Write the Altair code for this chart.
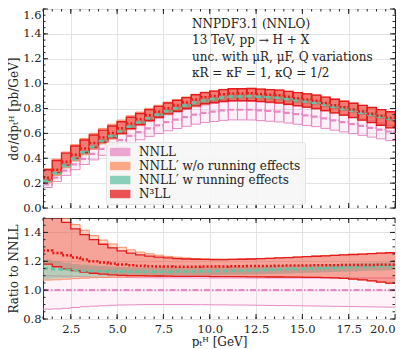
import altair as alt
import pandas as pd

# ---------------- data ----------------
bin_lo = [1.0, 1.5, 2.0, 2.5, 3.0, 3.5, 4.0, 4.5, 5.0, 5.5, 6.0, 6.5, 7.0, 7.5,
          8.0, 8.5, 9.0, 9.5, 10.0, 10.5, 11.0, 11.5, 12.0, 12.5, 13.0, 13.5,
          14.0, 14.5, 15.0, 15.5, 16.0, 16.5, 17.0, 17.5, 18.0, 18.5, 19.0, 19.5]
bin_w = 0.5

# NNLL central value, dsigma/dpt [pb/GeV]
nnll_central = [0.19, 0.245, 0.30, 0.35, 0.395, 0.435, 0.475, 0.51, 0.545, 0.58,
                0.61, 0.64, 0.665, 0.69, 0.71, 0.73, 0.75, 0.765, 0.775, 0.785,
                0.79, 0.79, 0.79, 0.785, 0.78, 0.775, 0.765, 0.755, 0.745, 0.735,
                0.72, 0.705, 0.69, 0.675, 0.66, 0.645, 0.63, 0.615]

# ratios to NNLL central
nnll_lo = [0.868, 0.870, 0.874, 0.880, 0.885, 0.889, 0.892, 0.895, 0.897, 0.898,
           0.899, 0.900, 0.900, 0.900, 0.900, 0.900, 0.899, 0.899, 0.898, 0.898,
           0.897, 0.897, 0.896, 0.895, 0.894, 0.893, 0.893, 0.892, 0.891, 0.890,
           0.889, 0.888, 0.887, 0.886, 0.885, 0.884, 0.883, 0.882]
nnll_c = [1.0] * 38
nnll_hi = [1.100, 1.099, 1.097, 1.095, 1.093, 1.091, 1.090, 1.089, 1.088, 1.087,
           1.086, 1.086, 1.085, 1.085, 1.085, 1.085, 1.084, 1.084, 1.084, 1.084,
           1.084, 1.084, 1.084, 1.084, 1.084, 1.084, 1.084, 1.084, 1.084, 1.084,
           1.084, 1.084, 1.084, 1.084, 1.084, 1.084, 1.084, 1.084]

wo_lo = [1.070, 1.072, 1.076, 1.080, 1.083, 1.086, 1.088, 1.090, 1.091, 1.092,
         1.093, 1.094, 1.094, 1.095, 1.095, 1.095, 1.095, 1.095, 1.094, 1.094,
         1.094, 1.093, 1.093, 1.092, 1.092, 1.091, 1.091, 1.090, 1.090, 1.089,
         1.088, 1.086, 1.083, 1.078, 1.072, 1.065, 1.057, 1.049]
wo_c = [1.270, 1.252, 1.237, 1.222, 1.208, 1.197, 1.188, 1.180, 1.174, 1.169,
        1.165, 1.162, 1.160, 1.159, 1.158, 1.158, 1.158, 1.159, 1.159, 1.160,
        1.161, 1.162, 1.163, 1.164, 1.164, 1.165, 1.166, 1.166, 1.167, 1.168,
        1.168, 1.169, 1.170, 1.170, 1.171, 1.171, 1.172, 1.172]
wo_hi = [1.660, 1.600, 1.500, 1.455, 1.415, 1.378, 1.347, 1.320, 1.297, 1.279,
         1.264, 1.252, 1.242, 1.234, 1.228, 1.223, 1.219, 1.217, 1.216, 1.215,
         1.215, 1.216, 1.217, 1.219, 1.221, 1.224, 1.227, 1.230, 1.233, 1.236,
         1.239, 1.242, 1.245, 1.248, 1.251, 1.254, 1.257, 1.260]

w_lo = [1.075, 1.080, 1.085, 1.090, 1.093, 1.095, 1.097, 1.098, 1.099, 1.100,
        1.100, 1.100, 1.100, 1.100, 1.101, 1.101, 1.102, 1.103, 1.104, 1.105,
        1.106, 1.107, 1.108, 1.110, 1.112, 1.114, 1.116, 1.118, 1.120, 1.122,
        1.124, 1.126, 1.128, 1.130, 1.132, 1.134, 1.136, 1.138]
w_c = [1.150, 1.145, 1.141, 1.138, 1.135, 1.133, 1.131, 1.130, 1.129, 1.128,
       1.128, 1.128, 1.128, 1.128, 1.129, 1.129, 1.130, 1.131, 1.132, 1.133,
       1.134, 1.135, 1.137, 1.139, 1.141, 1.143, 1.145, 1.147, 1.149, 1.151,
       1.153, 1.155, 1.157, 1.159, 1.161, 1.163, 1.165, 1.167]
w_hi = [1.210, 1.200, 1.190, 1.182, 1.176, 1.171, 1.167, 1.163, 1.161, 1.159,
        1.158, 1.157, 1.156, 1.156, 1.156, 1.156, 1.157, 1.158, 1.159, 1.160,
        1.161, 1.162, 1.164, 1.166, 1.168, 1.170, 1.172, 1.174, 1.176, 1.178,
        1.180, 1.182, 1.184, 1.186, 1.188, 1.190, 1.192, 1.194]

n3ll_lo = [1.180, 1.162, 1.148, 1.135, 1.125, 1.117, 1.111, 1.106, 1.103, 1.101,
           1.100, 1.099, 1.098, 1.097, 1.096, 1.096, 1.095, 1.095, 1.094, 1.094,
           1.093, 1.093, 1.092, 1.092, 1.091, 1.091, 1.090, 1.090, 1.089, 1.088,
           1.087, 1.085, 1.082, 1.077, 1.071, 1.064, 1.056, 1.048]
n3ll_c = [1.275, 1.257, 1.241, 1.226, 1.212, 1.201, 1.192, 1.184, 1.178, 1.173,
          1.169, 1.166, 1.164, 1.163, 1.162, 1.162, 1.162, 1.163, 1.163, 1.164,
          1.165, 1.166, 1.167, 1.168, 1.168, 1.169, 1.170, 1.170, 1.171, 1.172,
          1.172, 1.173, 1.174, 1.174, 1.175, 1.175, 1.176, 1.176]
n3ll_hi = [1.620, 1.560, 1.470, 1.425, 1.385, 1.350, 1.318, 1.293, 1.272, 1.257,
           1.245, 1.236, 1.229, 1.223, 1.219, 1.216, 1.214, 1.213, 1.212, 1.212,
           1.213, 1.214, 1.216, 1.218, 1.220, 1.223, 1.226, 1.229, 1.232, 1.235,
           1.238, 1.241, 1.244, 1.247, 1.250, 1.253, 1.256, 1.259]

bands = ["NNLL", "NNLL′ w/o running effects", "NNLL′ w running effects", "N³LL"]
colors = ["#e78ac3", "#fc8d62", "#66c2a5", "#e41a1c"]
ratios = [(nnll_lo, nnll_c, nnll_hi), (wo_lo, wo_c, wo_hi),
          (w_lo, w_c, w_hi), (n3ll_lo, n3ll_c, n3ll_hi)]

annot_lines = ["NNPDF3.1 (NNLO)", "13 TeV, pp → H + X",
               "unc. with μR, μF, Q variations", "κR = κF = 1, κQ = 1/2"]

x_ticks = [2.5, 5.0, 7.5, 10.0, 12.5, 15.0, 17.5, 20.0]
x_minor = [v / 2 for v in range(2, 40)]
y1_ticks = [0.0, 0.2, 0.4, 0.6, 0.8, 1.0, 1.2, 1.4, 1.6]
y1_minor = [v / 20 for v in range(0, 33)]
y2_ticks = [0.8, 1.0, 1.2, 1.4]
y2_minor = [v / 20 for v in range(16, 31)]

# ---------------- tables ----------------
top_rows, bot_rows = [], []
for b, (rlo, rc, rhi) in zip(bands, ratios):
    for i, x0 in enumerate(bin_lo):
        c = nnll_central[i]
        top_rows.append(dict(band=b, xlo=x0, xhi=x0 + bin_w,
                             lo=c * rlo[i], mid=c * rc[i], hi=c * rhi[i]))
        bot_rows.append(dict(band=b, x=x0, lo=rlo[i], mid=rc[i], hi=rhi[i]))
    bot_rows.append(dict(band=b, x=bin_lo[-1] + bin_w, lo=rlo[-1], mid=rc[-1], hi=rhi[-1]))
top_df = pd.DataFrame(top_rows)
bot_df = pd.DataFrame(bot_rows)

W, H1, H2 = 352, 199, 101
FONT = "DejaVu Serif"
INK = "#222222"

xs = alt.Scale(domain=[1, 20], nice=False, zero=False)
ys1 = alt.Scale(domain=[0, 1.6], nice=False, zero=False)
ys2 = alt.Scale(domain=[0.8, 1.5], nice=False, zero=False)
cscale = alt.Scale(domain=bands, range=colors)

ax_x_top = alt.Axis(values=x_ticks[:-1], labels=False, title=None, grid=True)
ax_y_top = alt.Axis(values=y1_ticks, format=".1f", grid=True, title="dσ/dpₜᴴ [pb/GeV]",
                    labelBaseline={"condition": {"test": "datum.value >= 1.55", "value": "top"},
                                   "value": "middle"})
ax_x_bot = alt.Axis(values=x_ticks, format=".1f", grid=True, labelPadding=4, titlePadding=2,
                    title="pₜᴴ [GeV]")
ax_y_bot = alt.Axis(values=y2_ticks, format=".1f", grid=True, title="Ratio to NNLL")

legend = alt.Legend(title=None, orient="none", legendX=63, legendY=133,
                    fillColor="rgba(246,246,246,0.88)", strokeColor="rgba(225,225,225,0.9)",
                    padding=4, cornerRadius=2,
                    symbolType="M-1,-0.7H2.4V0.7H-1Z", symbolSize=144,
                    symbolOpacity=0.75, symbolStrokeWidth=0,
                    labelFont=FONT, labelFontSize=12, labelColor=INK,
                    labelOffset=17, rowPadding=2, labelLimit=300)

top_styles = [dict(fo=0.12, sw=1.0), dict(fo=0.45, sw=1.0),
              dict(fo=0.55, sw=0.0), dict(fo=0.45, sw=1.4)]
mid_styles = [dict(dash=[6, 2, 1.5, 2], w=2.2), dict(dash=[2, 2], w=1.6),
              dict(dash=[5, 3], w=2.5), dict(dash=[2, 2], w=2.5)]


def ticks(values, axis, length, W, H, xscale, yscale, xax, yax):
    df = pd.DataFrame({"v": values})
    out = []
    if axis == "x":
        enc = dict(x=alt.X("v:Q", scale=xscale, axis=xax))
        out.append(alt.Chart(df).mark_rule(color=INK, strokeWidth=1).encode(
            y=alt.value(H), y2=alt.value(H - length), **enc))
        out.append(alt.Chart(df).mark_rule(color=INK, strokeWidth=1).encode(
            y=alt.value(0), y2=alt.value(length), **enc))
    else:
        enc = dict(y=alt.Y("v:Q", scale=yscale, axis=yax))
        out.append(alt.Chart(df).mark_rule(color=INK, strokeWidth=1).encode(
            x=alt.value(0), x2=alt.value(length), **enc))
        out.append(alt.Chart(df).mark_rule(color=INK, strokeWidth=1).encode(
            x=alt.value(W), x2=alt.value(W - length), **enc))
    return out


# ---------------- top panel ----------------
top_layers = []
for k, (b, col) in enumerate(zip(bands, colors)):
    d = top_df[top_df.band == b]
    st = top_styles[k]
    top_layers.append(
        alt.Chart(d).mark_rect(fillOpacity=st["fo"], stroke=col, strokeWidth=st["sw"], clip=True)
        .encode(x=alt.X("xlo:Q", scale=xs, axis=ax_x_top), x2="xhi:Q",
                y=alt.Y("lo:Q", scale=ys1, axis=ax_y_top), y2="hi:Q",
                color=alt.Color("band:N", scale=cscale, legend=legend)))
for k, (b, col) in enumerate(zip(bands, colors)):
    d = top_df[top_df.band == b]
    ms = mid_styles[k]
    top_layers.append(
        alt.Chart(d).mark_rule(color=col, strokeDash=ms["dash"], strokeWidth=ms["w"], clip=True)
        .encode(x=alt.X("xlo:Q", scale=xs, axis=ax_x_top), x2="xhi:Q",
                y=alt.Y("mid:Q", scale=ys1, axis=ax_y_top)))

for i, line in enumerate(annot_lines):
    top_layers.append(
        alt.Chart(pd.DataFrame({"t": [line]})).mark_text(
            align="left", baseline="middle", font=FONT, fontSize=12, color=INK)
        .encode(text="t:N", x=alt.value(149), y=alt.value(15 + 16.3 * i)))

top_layers += ticks(x_ticks, "x", 5, W, H1, xs, ys1, ax_x_top, ax_y_top)
top_layers += ticks(x_minor, "x", 2.5, W, H1, xs, ys1, ax_x_top, ax_y_top)
top_layers += ticks(y1_ticks, "y", 5, W, H1, xs, ys1, ax_x_top, ax_y_top)
top_layers += ticks(y1_minor, "y", 2.5, W, H1, xs, ys1, ax_x_top, ax_y_top)
top = alt.layer(*top_layers).properties(width=W, height=H1)

# ---------------- ratio panel ----------------
bot_fill = [0.10, 0.33, 0.45, 0.28]
bot_layers = []
for k, (b, col) in enumerate(zip(bands, colors)):
    d = bot_df[bot_df.band == b]
    bot_layers.append(
        alt.Chart(d).mark_area(interpolate="step-after", color=col, opacity=bot_fill[k], clip=True)
        .encode(x=alt.X("x:Q", scale=xs, axis=ax_x_bot),
                y=alt.Y("lo:Q", scale=ys2, axis=ax_y_bot), y2="hi:Q"))
    if k != 2:
        for fld in ["lo", "hi"]:
            bot_layers.append(
                alt.Chart(d).mark_line(interpolate="step-after", color=col,
                                       strokeWidth=1.3 if k == 3 else 1.0, clip=True)
                .encode(x=alt.X("x:Q", scale=xs, axis=ax_x_bot),
                        y=alt.Y(f"{fld}:Q", scale=ys2, axis=ax_y_bot)))
for k, (b, col) in enumerate(zip(bands, colors)):
    d = bot_df[bot_df.band == b]
    ms = mid_styles[k]
    bot_layers.append(
        alt.Chart(d).mark_line(interpolate="step-after", color=col, strokeDash=ms["dash"],
                               strokeWidth=ms["w"], clip=True)
        .encode(x=alt.X("x:Q", scale=xs, axis=ax_x_bot),
                y=alt.Y("mid:Q", scale=ys2, axis=ax_y_bot)))

bot_layers += ticks(x_ticks, "x", 5, W, H2, xs, ys2, ax_x_bot, ax_y_bot)
bot_layers += ticks(x_minor, "x", 2.5, W, H2, xs, ys2, ax_x_bot, ax_y_bot)
bot_layers += ticks(y2_ticks, "y", 5, W, H2, xs, ys2, ax_x_bot, ax_y_bot)
bot_layers += ticks(y2_minor, "y", 2.5, W, H2, xs, ys2, ax_x_bot, ax_y_bot)
bottom = alt.layer(*bot_layers).properties(width=W, height=H2)

chart = (
    alt.vconcat(top, bottom, spacing=3)
    .properties(padding={"left": -1, "top": 0, "right": 0, "bottom": 0})
    .configure_view(stroke=INK, strokeWidth=1)
    .configure_axis(labelFont=FONT, labelFontSize=11.5, labelColor=INK,
                    titleFont=FONT, titleFontSize=12, titleColor=INK,
                    titleFontWeight="normal", domain=False, ticks=False,
                    gridColor="#e3e3e3", gridWidth=1, labelPadding=2, titlePadding=2)
)

chart.save("out.html", embed_options={"renderer": "svg", "actions": False})
